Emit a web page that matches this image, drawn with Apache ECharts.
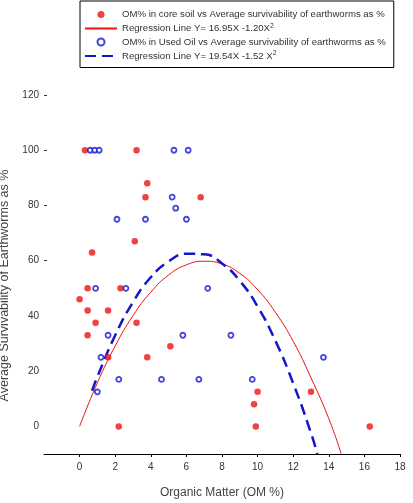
<!DOCTYPE html>
<html>
<head>
<meta charset="utf-8">
<script src="https://cdn.jsdelivr.net/npm/echarts@6/dist/echarts.min.js"></script>
<style>html,body{margin:0;padding:0;background:#fff}#c{width:413px;height:503px}</style>
</head>
<body>
<div id="c"></div>
<script>
// Control soil: [OM %, survivability %]
const controlPoints = [
  [0.3,100],[3.2,100],[3.8,88],[3.7,83],[6.8,83],[3.1,67],[0.7,63],
  [0.45,50],[2.3,50],[0,46],[0.45,42],[1.6,42],[0.9,37.5],[3.2,37.5],
  [0.45,33],[1.6,25],[3.8,25],[5.1,29],[2.2,0],[10.0,12.5],[9.8,8],
  [9.9,0],[13.0,12.5],[16.3,0]
];
// Used oil soil: [OM %, survivability %]
const usedOilPoints = [
  [0.6,100],[0.85,100],[1.1,100],[5.3,100],[6.1,100],[5.2,83],[5.4,79],
  [2.1,75],[3.7,75],[6.0,75],[0.9,50],[2.6,50],[7.2,50],[1.6,33],
  [5.8,33],[8.5,33],[1.2,25],[13.7,25],[2.2,17],[4.6,17],[6.7,17],
  [9.7,17],[1.0,12.5]
];
// Regression curves
const controlFitX = [0,1,2,3,4,5,6,7,8,9,10,11,12,13,14,14.7];
const controlFitY = [0,15.8,29.1,40.1,48.6,54.8,58.5,59.8,58.8,55.4,49.5,41.3,30.8,17.6,2.8,-10];
const usedFitX = [0.7,1,2,3,4,5,6,7,8,9,10,11,12,13,13.35];
const usedFitY = [12.9,18,33,45,54,59.7,62.5,62.3,59,52.7,43.4,31,15.6,-2.4,-10];

const xTicks = [0,2,4,6,8,10,12,14,16,18];
const yTicks = [0,20,40,60,80,100,120];
const yTickMarks = [60,80,100,120];

const names = [
  'OM% in core soil vs Average survivability of earthworms as %',
  'Regression Line Y= 16.95X -1.20X²',
  'OM% in Used Oil vs Average survivability of earthworms as %',
  'Regression Line Y= 19.54X -1.52 X²'
];

const RED = '#ee1111', BLUE = '#1515cc';
const font = '"Liberation Sans", Arial, sans-serif';

const chart = echarts.init(document.getElementById('c'));
chart.setOption({
  animation: false,
  backgroundColor: '#fff',
  grid: { left: 44, right: 13, top: 95, bottom: 49, containLabel: false, outerBoundsMode: 'none' },
  legend: {
    orient: 'vertical', left: 80, top: 1,
    padding: [8, 8, 6, 4],
    itemWidth: 32, itemHeight: 7, itemGap: 2.5,
    borderColor: '#000', borderWidth: 1,
    textStyle: {
      fontFamily: font, fontSize: 9.6, lineHeight: 11, color: '#333',
      rich: { sup: { fontSize: 7, padding: [0,0,5,0], fontFamily: font, color: '#333' } }
    },
    formatter: function (n) { return n.replace('²', '{sup|2}'); },
    data: [
      { name: names[0] },
      { name: names[1], itemStyle: { opacity: 0 } },
      { name: names[2] },
      { name: names[3], itemStyle: { opacity: 0 } }
    ]
  },
  xAxis: {
    type: 'value', min: -2, max: 18, interval: 2,
    name: 'Organic Matter (OM %)', nameLocation: 'middle', nameGap: 33,
    nameTextStyle: { fontFamily: font, fontSize: 12, color: '#444' },
    axisLine: { show: true, onZero: false, lineStyle: { color: '#000', width: 1 } },
    axisTick: { show: true, customValues: xTicks, length: 3, lineStyle: { color: '#000' } },
    axisLabel: { customValues: xTicks, fontFamily: font, fontSize: 10, color: '#333', margin: 8 },
    splitLine: { show: false }
  },
  yAxis: {
    type: 'value', min: -10, max: 120, interval: 10,
    name: 'Average Survivability of Earthworms as %', nameLocation: 'middle', nameGap: 30,
    nameTextStyle: { fontFamily: font, fontSize: 12.5, color: '#444', padding: [0,0,0,-22] },
    axisLine: { show: false, onZero: false },
    axisTick: { show: true, inside: true, length: 3, customValues: yTickMarks, lineStyle: { color: '#333' } },
    axisLabel: { customValues: yTicks, fontFamily: font, fontSize: 10, color: '#333', margin: 5 },
    splitLine: { show: false }
  },
  series: [
    {
      name: names[0], type: 'scatter', data: controlPoints,
      symbol: 'circle', symbolSize: 6.5, itemStyle: { color: RED }, z: 3
    },
    {
      name: names[1], type: 'line', smooth: true, symbol: 'none',
      data: controlFitX.map((x, i) => [x, controlFitY[i]]),
      lineStyle: { color: RED, width: 1 }, itemStyle: { color: RED }, z: 2
    },
    {
      name: names[2], type: 'scatter', data: usedOilPoints,
      symbol: 'circle', symbolSize: 5,
      itemStyle: { color: '#fff', borderColor: BLUE, borderWidth: 1.8 }, z: 4
    },
    {
      name: names[3], type: 'line', smooth: true, symbol: 'none',
      data: usedFitX.map((x, i) => [x, usedFitY[i]]),
      lineStyle: { color: BLUE, width: 2.5, type: [11, 6] }, itemStyle: { color: BLUE }, z: 2
    }
  ]
});
</script>
</body>
</html>
